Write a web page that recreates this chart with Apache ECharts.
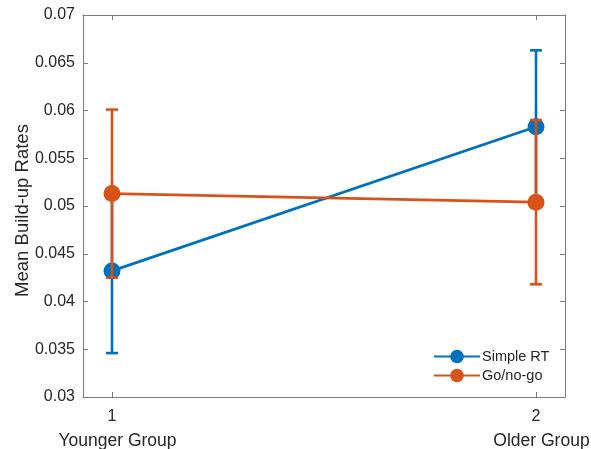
<!DOCTYPE html>
<html>
<head>
<meta charset="utf-8">
<script src="https://cdn.jsdelivr.net/npm/echarts@6/dist/echarts.min.js"></script>
<style>
  html, body { margin: 0; padding: 0; background: #fff; }
  #chart { width: 591px; height: 449px; }
</style>
</head>
<body>
<div id="chart"></div>
<script>
// Group positions and labels
const groupPos = [1, 2];
const groupNames = ['Younger Group', 'Older Group'];

// Mean build-up rates per task, with symmetric error half-widths
const simpleMean = [0.0432, 0.0583];
const simpleErr = [0.0086, 0.0080];
const goMean = [0.0513, 0.0504];
const goErr = [0.0088, 0.0086];

const BLUE = '#0072BD';
const ORANGE = '#D95319';
const AXIS = '#7a7a7a';
const TEXT = '#262626';
const FONT = 'Liberation Sans, Arial, sans-serif';

function pairs(vals) { return groupPos.map((x, i) => [x, vals[i]]); }
function bars(mean, err) { return groupPos.map((x, i) => [x, mean[i] - err[i], mean[i] + err[i]]); }

function errorBarItem(color) {
  return function (params, api) {
    const x = api.value(0);
    const lo = api.coord([x, api.value(1)]);
    const hi = api.coord([x, api.value(2)]);
    const cap = 6;
    const style = { stroke: color, lineWidth: 2.6 };
    return {
      type: 'group',
      children: [
        { type: 'line', shape: { x1: lo[0], y1: lo[1], x2: hi[0], y2: hi[1] }, style },
        { type: 'line', shape: { x1: lo[0] - cap, y1: lo[1], x2: lo[0] + cap, y2: lo[1] }, style },
        { type: 'line', shape: { x1: hi[0] - cap, y1: hi[1], x2: hi[0] + cap, y2: hi[1] }, style }
      ]
    };
  };
}

const chart = echarts.init(document.getElementById('chart'), null, { renderer: 'canvas' });

const xMin = 0.9316, xMax = 2.0684;

chart.setOption({
  animation: false,
  textStyle: { fontFamily: FONT },
  grid: { left: 83, top: 15, width: 482, height: 382, containLabel: false, outerBoundsMode: 'none' },
  xAxis: [
    {
      type: 'value', min: xMin, max: xMax,
      axisLine: { show: true, onZero: false, lineStyle: { color: AXIS, width: 1 } },
      splitLine: { show: false },
      axisTick: { show: true, inside: true, length: 5, customValues: groupPos, lineStyle: { color: AXIS } },
      axisLabel: {
        customValues: groupPos, margin: 11, color: TEXT,
        formatter: function (v) {
          const i = groupPos.indexOf(Math.round(v));
          return '{n|' + Math.round(v) + '}\n{g|' + groupNames[i] + '}';
        },
        rich: {
          n: { fontSize: 16, lineHeight: 18, color: TEXT, fontFamily: FONT },
          g: { fontSize: 17.5, lineHeight: 31, color: TEXT, fontFamily: FONT, padding: [0, 0, 0, 11] }
        }
      }
    },
    {
      type: 'value', position: 'top', min: xMin, max: xMax,
      axisLine: { show: true, onZero: false, lineStyle: { color: AXIS, width: 1 } },
      splitLine: { show: false },
      axisTick: { show: true, inside: true, length: 5, customValues: groupPos, lineStyle: { color: AXIS } },
      axisLabel: { show: false }
    }
  ],
  yAxis: [
    {
      type: 'value', min: 0.03, max: 0.07, interval: 0.005,
      name: 'Mean Build-up Rates', nameLocation: 'middle', nameGap: 51, nameMoveOverlap: false,
      nameTextStyle: { fontSize: 18.5, color: TEXT, fontFamily: FONT, padding: [0, 9, 0, 0] },
      axisLine: { show: true, onZero: false, lineStyle: { color: AXIS, width: 1 } },
      splitLine: { show: false },
      axisTick: { show: true, inside: true, length: 5, lineStyle: { color: AXIS } },
      axisLabel: {
        fontSize: 16, color: TEXT, margin: 8,
        formatter: function (v) { return String(parseFloat(v.toFixed(4))); }
      }
    },
    {
      type: 'value', position: 'right', min: 0.03, max: 0.07, interval: 0.005,
      axisLine: { show: true, onZero: false, lineStyle: { color: AXIS, width: 1 } },
      splitLine: { show: false },
      axisTick: { show: true, inside: true, length: 5, lineStyle: { color: AXIS } },
      axisLabel: { show: false }
    }
  ],
  legend: {
    left: 433, top: 349, orient: 'vertical', itemGap: 4, padding: 0,
    itemWidth: 46, itemHeight: 17,
    textStyle: { fontSize: 14.5, color: TEXT, fontFamily: FONT, padding: [0, 0, 0, -3] },
    data: ['Simple RT', 'Go/no-go']
  },
  series: [
    {
      name: 'Simple RT err', type: 'custom', z: 2,
      renderItem: errorBarItem(BLUE), data: bars(simpleMean, simpleErr),
      encode: { x: 0, y: [1, 2] }, silent: true
    },
    {
      name: 'Simple RT', type: 'line', z: 3, data: pairs(simpleMean),
      symbol: 'circle', symbolSize: 17,
      lineStyle: { color: BLUE, width: 2.8 }, itemStyle: { color: BLUE }
    },
    {
      name: 'Go/no-go err', type: 'custom', z: 4,
      renderItem: errorBarItem(ORANGE), data: bars(goMean, goErr),
      encode: { x: 0, y: [1, 2] }, silent: true
    },
    {
      name: 'Go/no-go', type: 'line', z: 5, data: pairs(goMean),
      symbol: 'circle', symbolSize: 17,
      lineStyle: { color: ORANGE, width: 2.8 }, itemStyle: { color: ORANGE }
    }
  ]
});
</script>
</body>
</html>
